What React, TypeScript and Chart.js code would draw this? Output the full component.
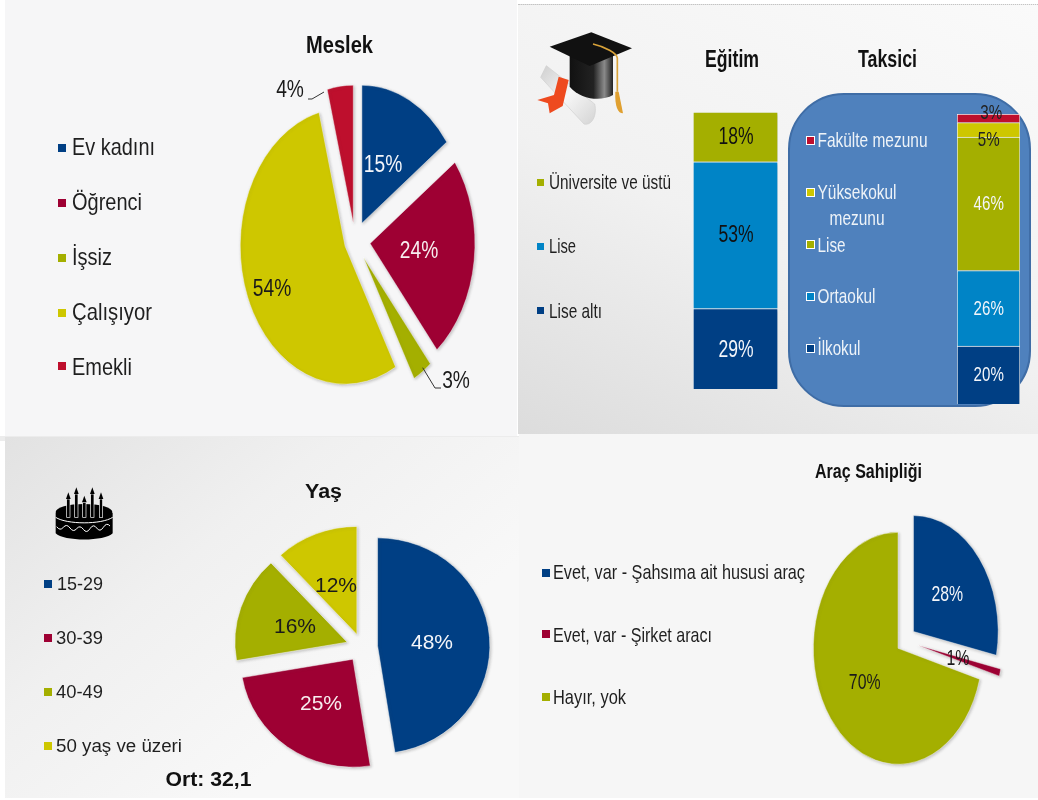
import React, { useEffect, useRef } from "react";
import { Chart, registerables } from "chart.js";

Chart.register(...registerables);

const NAVY = "#003f84";
const CRIMSON = "#9e0033";
const OLIVE = "#a4af00";
const YELLOW = "#cec700";
const RED = "#be0f2d";
const SKY = "#0084c6";
const FONT = "'Liberation Sans', Arial, sans-serif";

// ---- data ----
const meslekCategories = ["Ev kadını", "Öğrenci", "İşsiz", "Çalışıyor", "Emekli"];
const meslekValues = [15, 24, 3, 54, 4];
const egitimCategories = ["Lise altı", "Lise", "Üniversite ve üstü"];
const egitimValues = [29, 53, 18];
const taksiciCategories = ["İlkokul", "Ortaokul", "Lise", "Yüksekokul mezunu", "Fakülte mezunu"];
const taksiciValues = [20, 26, 46, 5, 3];
const yasCategories = ["15-29", "30-39", "40-49", "50 yaş ve üzeri"];
const yasValues = [48, 25, 16, 12];
const aracCategories = ["Evet, var - Şahsıma ait hususi araç", "Evet, var - Şirket aracı", "Hayır, yok"];
const aracValues = [28, 1, 70];

// ---- layout and style, kept apart from the data ----
type Pt = [number, number];
const meslekColors = [NAVY, CRIMSON, OLIVE, YELLOW, RED];
const egitimColors = [NAVY, SKY, OLIVE];
const taksiciColors = [NAVY, SKY, OLIVE, YELLOW, RED];
const yasColors = [NAVY, CRIMSON, OLIVE, YELLOW];
const aracColors = [NAVY, CRIMSON, OLIVE];

const labelPlugin = {
  id: "sliceLabels",
  // Chart.js grows an offset slice's radius and trims its arc length; cancel both
  // so that an exploded slice keeps its true radius and its true angle.
  afterDatasetsUpdate(chart: any) {
    if (chart.config.type !== "pie") return;
    chart.getDatasetMeta(0).data.forEach((arc: any) => {
      const offset = (arc.options.offset || 0) / 4;
      const fix = 1 - Math.sin(Math.min(Math.PI, arc.circumference || 0));
      const extra = offset * fix;
      const trim = extra / Math.PI / arc.outerRadius / 2;
      arc.outerRadius -= extra;
      arc.startAngle -= trim;
      arc.endAngle += trim;
    });
  },
  beforeDatasetsDraw(chart: any, _a: any, o: any) {
    const { ctx, chartArea } = chart;
    ctx.save();
    if (o.stretch) {
      const cx = (chartArea.left + chartArea.right) / 2;
      ctx.translate(cx, 0);
      ctx.scale(o.stretch, 1);
      ctx.translate(-cx, 0);
    }
    ctx.shadowColor = "rgba(90,90,90,0.35)";
    ctx.shadowBlur = 3;
    ctx.shadowOffsetX = 1;
    ctx.shadowOffsetY = 1;
  },
  afterDatasetsDraw(chart: any) {
    chart.ctx.restore();
  },
  afterDraw(chart: any, _a: any, o: any) {
    const { ctx } = chart;
    const [ox, oy] = o.origin;
    ctx.save();
    ctx.strokeStyle = "#333";
    ctx.lineWidth = 1;
    for (const line of o.leaders || []) {
      ctx.beginPath();
      line.forEach(([x, y]: Pt, i: number) => (i ? ctx.lineTo(x - ox, y - oy) : ctx.moveTo(x - ox, y - oy)));
      ctx.stroke();
    }
    ctx.font = `${o.size}px ${FONT}`;
    ctx.textAlign = "center";
    ctx.textBaseline = "middle";
    o.values.forEach((v: number, i: number) => {
      const [x, y] = o.positions[i];
      ctx.save();
      ctx.translate(x - ox, y - oy);
      ctx.scale(o.squeeze, 1);
      ctx.fillStyle = o.colors[i];
      ctx.fillText(`${v}%`, 0, 0);
      ctx.restore();
    });
    ctx.restore();
  },
};

type PieProps = {
  labels: string[];
  values: number[];
  colors: string[];
  cx: number;
  cy: number;
  half: number;
  radius: number;
  stretch: number;
  offsets: number[];
  labelPos: Pt[];
  labelColors: string[];
  size: number;
  squeeze: number;
  leaders?: Pt[][];
};

function Pie(p: PieProps) {
  const ref = useRef<HTMLCanvasElement>(null);
  const left = p.cx - p.half;
  const top = p.cy - p.half;
  useEffect(() => {
    const chart = new Chart(ref.current!, {
      type: "pie",
      data: {
        labels: p.labels,
        datasets: [
          {
            data: p.values,
            backgroundColor: p.colors,
            borderColor: "rgba(255,255,255,0.6)",
            borderWidth: 0.8,
            offset: p.offsets,
          } as any,
        ],
      },
      options: {
        animation: false,
        responsive: false,
        radius: p.radius,
        layout: { padding: 0 },
        plugins: {
          legend: { display: false },
          tooltip: { enabled: false },
          sliceLabels: {
            origin: [left, top],
            values: p.values,
            positions: p.labelPos,
            colors: p.labelColors,
            size: p.size,
            squeeze: p.squeeze,
            stretch: p.stretch,
            leaders: p.leaders,
          },
        },
      } as any,
      plugins: [labelPlugin as any],
    });
    return () => chart.destroy();
  }, []);
  return (
    <canvas
      ref={ref}
      width={p.half * 2}
      height={p.half * 2}
      style={{ position: "absolute", left, top, width: p.half * 2, height: p.half * 2 }}
    />
  );
}

type BarProps = {
  name: string;
  labels: string[];
  values: number[];
  colors: string[];
  x: number;
  y: number;
  w: number;
  h: number;
  labelPos: Pt[];
  labelColors: string[];
  size: number;
  squeeze: number;
};

function StackBar(p: BarProps) {
  const ref = useRef<HTMLCanvasElement>(null);
  const pad = 14;
  const left = p.x - pad;
  const top = p.y - pad;
  useEffect(() => {
    const chart = new Chart(ref.current!, {
      type: "bar",
      data: {
        labels: [p.name],
        datasets: p.labels.map((l, i) => ({
          label: l,
          data: [p.values[i]],
          backgroundColor: p.colors[i],
          borderColor: "#f2f6f8",
          borderWidth: 1,
          barPercentage: 1,
          categoryPercentage: 1,
        })),
      },
      options: {
        animation: false,
        responsive: false,
        layout: { padding: pad },
        scales: {
          x: { display: false, stacked: true },
          y: { display: false, stacked: true, min: 0, max: 100 },
        },
        plugins: {
          legend: { display: false },
          tooltip: { enabled: false },
          sliceLabels: {
            origin: [left, top],
            values: p.values,
            positions: p.labelPos,
            colors: p.labelColors,
            size: p.size,
            squeeze: p.squeeze,
          },
        },
      } as any,
      plugins: [labelPlugin as any],
    });
    return () => chart.destroy();
  }, []);
  const W = p.w + pad * 2;
  const H = p.h + pad * 2;
  return <canvas ref={ref} width={W} height={H} style={{ position: "absolute", left, top, width: W, height: H }} />;
}

type T = { s: string; x: number; y: number; w: number; size: number; bold?: boolean; fill?: string };

const texts: T[] = [
  { s: "Meslek", x: 306, y: 53, w: 67, size: 23, bold: true, fill: "#111" },
  { s: meslekCategories[0], x: 72, y: 155, w: 83, size: 24 },
  { s: meslekCategories[1], x: 72, y: 210, w: 70, size: 24 },
  { s: meslekCategories[2], x: 72, y: 265, w: 40, size: 24 },
  { s: meslekCategories[3], x: 72, y: 320, w: 80, size: 24 },
  { s: meslekCategories[4], x: 72, y: 375, w: 60, size: 24 },

  { s: "Eğitim", x: 705, y: 66.5, w: 54, size: 23, bold: true, fill: "#111" },
  { s: "Taksici", x: 858, y: 66.5, w: 59, size: 23, bold: true, fill: "#111" },
  { s: egitimCategories[2], x: 549, y: 189, w: 122, size: 21 },
  { s: egitimCategories[1], x: 549, y: 253, w: 27, size: 21 },
  { s: egitimCategories[0], x: 549, y: 318, w: 53, size: 21 },
  { s: taksiciCategories[4], x: 817.5, y: 147, w: 110, size: 21, fill: "#eef3f8" },
  { s: "Yüksekokul", x: 817.5, y: 199, w: 79, size: 21, fill: "#eef3f8" },
  { s: "mezunu", x: 829.5, y: 225, w: 55, size: 21, fill: "#eef3f8" },
  { s: taksiciCategories[2], x: 817.5, y: 252, w: 28, size: 21, fill: "#eef3f8" },
  { s: taksiciCategories[1], x: 817.5, y: 303, w: 58, size: 21, fill: "#eef3f8" },
  { s: taksiciCategories[0], x: 817.5, y: 355, w: 43, size: 21, fill: "#eef3f8" },

  { s: "Yaş", x: 305, y: 498, w: 37, size: 20, bold: true, fill: "#111" },
  { s: yasCategories[0], x: 57, y: 590, w: 46, size: 17.5 },
  { s: yasCategories[1], x: 56, y: 644, w: 47, size: 17.5 },
  { s: yasCategories[2], x: 56, y: 698, w: 47, size: 17.5 },
  { s: yasCategories[3], x: 56, y: 752, w: 126, size: 17.5 },
  { s: "Ort: 32,1", x: 165.5, y: 786, w: 86, size: 20, bold: true, fill: "#111" },

  { s: "Araç Sahipliği", x: 815, y: 478, w: 107, size: 21, bold: true, fill: "#111" },
  { s: aracCategories[0], x: 553, y: 579, w: 252, size: 21 },
  { s: aracCategories[1], x: 553, y: 642, w: 159, size: 21 },
  { s: aracCategories[2], x: 553, y: 704, w: 73, size: 21 },
];

type Sw = { x: number; y: number; s: number; c: string; edge?: boolean };
const swatches: Sw[] = [
  ...[147.7, 202.7, 257.7, 312.7, 366].map((y, i) => ({ x: 58, y, s: 8, c: meslekColors[i] })),
  ...[310, 246, 182].map((y, i) => ({ x: 537, y, s: 7, c: egitimColors[i] })),
  ...[348.7, 296.3, 244.3, 192.3, 140.7].map((y, i) => ({ x: 805.5, y, s: 9, c: taksiciColors[i], edge: true })),
  ...[584, 638, 692, 746].map((y, i) => ({ x: 43.5, y, s: 8, c: yasColors[i] })),
  ...[572.7, 634.3, 696.7].map((y, i) => ({ x: 541.5, y, s: 8, c: aracColors[i] })),
];

function CapIcon() {
  return (
    <svg
      viewBox="0 0 1560 1320"
      width={520}
      height={440}
      style={{ position: "absolute", left: 518, top: 0 }}
    >
      <defs>
        <linearGradient id="capBody" x1="0" x2="1" y1="0" y2="0">
          <stop offset="0" stopColor="#111" />
          <stop offset="0.55" stopColor="#222" />
          <stop offset="0.8" stopColor="#8a8a8a" />
          <stop offset="1" stopColor="#222" />
        </linearGradient>
        <linearGradient id="scroll" x1="0" x2="1" y1="0" y2="1">
          <stop offset="0" stopColor="#cfcfcf" />
          <stop offset="0.5" stopColor="#f7f7f7" />
          <stop offset="1" stopColor="#d4d4d4" />
        </linearGradient>
      </defs>
      <path d="M68 232 L85 197 L230 312 C238 345 222 378 198 372 Z" fill="url(#scroll)" stroke="#cfcfcf" strokeWidth="2" />
      <path d="M122 230 L152 240 L134 318 L95 340 L90 310 L58 300 L108 285 Z" fill="#ee4a1f" />
      <path d="M155 160 L155 260 C190 300 250 305 285 285 L285 160 Z" fill="url(#capBody)" />
      <path d="M95 140 L220 97 L342 145 L215 198 Z" fill="#111" />
      <path d="M225 132 C260 140 298 160 298 175 L298 275" fill="none" stroke="#d9a33a" strokeWidth="5" />
      <path d="M292 275 L302 275 L315 340 C300 340 290 320 292 275 Z" fill="#e0a030" />
    </svg>
  );
}

function CakeIcon() {
  const candles = [205, 229, 253, 277, 303];
  const tops = [195, 180, 205, 180, 195];
  return (
    <svg
      viewBox="0 0 1560 1110"
      width={520}
      height={370}
      style={{ position: "absolute", left: 0, top: 430 }}
    >
      <path d="M167 248 L167 310 C190 335 315 335 338 310 L338 248 Z" fill="#000" />
      <ellipse cx="252" cy="246" rx="85" ry="24" fill="#000" />
      <path d="M167 262 C200 284 305 284 338 262" fill="none" stroke="#fff" strokeWidth="3" />
      <path
        d="M170 290 q10 14 20 2 t20 2 t20 2 t20 2 t20 -2 t20 -2 t20 -2 t20 -4"
        fill="none"
        stroke="#fff"
        strokeWidth="3"
      />
      {candles.map((x, i) => (
        <g key={x}>
          <rect x={x - 5} y={tops[i] + 12} width={10} height={250 - tops[i]} fill="#000" stroke="#fff" strokeWidth="2" />
          <path d={`M${x - 7} ${tops[i] + 12} L${x} ${tops[i] - 8} L${x + 7} ${tops[i] + 12} Z`} fill="#000" />
        </g>
      ))}
    </svg>
  );
}

export default function App() {
  return (
    <div
      style={{
        position: "absolute",
        left: 0,
        top: 0,
        width: 1038,
        height: 800,
        overflow: "hidden",
        background: "#fff",
      }}
    >
      <div style={{ position: "absolute", left: 0, top: 436, width: 1038, height: 5, background: "#ececec" }} />
      <div style={{ position: "absolute", left: 5, top: 0, width: 512, height: 436, background: "#f6f6f7" }} />
      <div
        style={{
          position: "absolute",
          left: 518,
          top: 4,
          width: 520,
          height: 429,
          background: "linear-gradient(205deg,#fafafa 0%,#f1f1f1 55%,#dcdcdc 100%)",
          borderTop: "1px dotted #c4c4c4",
        }}
      />
      <div
        style={{
          position: "absolute",
          left: 5,
          top: 437,
          width: 514,
          height: 361,
          background: "linear-gradient(140deg,#e2e2e2 0%,#f0f0f0 35%,#f8f8f8 70%,#f8f8f8 100%)",
        }}
      />
      <div
        style={{
          position: "absolute",
          left: 519,
          top: 434,
          width: 519,
          height: 364,
          background: "#f6f6f6",
        }}
      />
      <div
        style={{
          position: "absolute",
          left: 788,
          top: 93,
          width: 239,
          height: 310,
          borderRadius: "56px",
          background: "#4f81bd",
          border: "2px solid #3f6da6",
          boxSizing: "content-box",
        }}
      />
      <CapIcon />
      <CakeIcon />

      <Pie
        labels={meslekCategories}
        values={meslekValues}
        colors={meslekColors}
        cx={355}
        cy={241}
        half={175}
        radius={138}
        stretch={0.76}
        offsets={[80, 80, 80, 56, 72]}
        labelPos={[[383, 165], [419, 251], [456, 381], [272, 289], [290, 90]]}
        labelColors={["#f4f6fa", "#f8eef0", "#1a1a1a", "#1a1a1a", "#1a1a1a"]}
        size={24}
        squeeze={0.8}
        leaders={[
          [[422.7, 367.7], [435, 388], [441, 388]],
          [[324, 92], [312, 99], [308, 99]],
        ]}
      />
      <StackBar
        name="Eğitim"
        labels={egitimCategories}
        values={egitimValues}
        colors={egitimColors}
        x={693}
        y={112}
        w={85}
        h={277}
        labelPos={[[736, 350], [736, 235], [736, 137]]}
        labelColors={["#f4f6fa", "#111", "#111"]}
        size={24}
        squeeze={0.73}
      />
      <StackBar
        name="Taksici"
        labels={taksiciCategories}
        values={taksiciValues}
        colors={taksiciColors}
        x={957}
        y={114}
        w={63}
        h={290}
        labelPos={[[988.7, 375.7], [988.7, 309], [988.7, 204], [988.7, 140], [991.3, 113]]}
        labelColors={["#f4f6fa", "#f4f6fa", "#f4f6fa", "#222", "#222"]}
        size={21}
        squeeze={0.72}
      />
      <Pie
        labels={yasCategories}
        values={yasValues}
        colors={yasColors}
        cx={362}
        cy={647}
        half={150}
        radius={108}
        stretch={1.04}
        offsets={[60, 60, 60, 54]}
        labelPos={[[432, 643], [321, 704], [295, 627], [336, 586]]}
        labelColors={["#f4f6fa", "#f8eef0", "#1a1a1a", "#1a1a1a"]}
        size={21}
        squeeze={1}
      />
      <Pie
        labels={aracCategories}
        values={aracValues}
        colors={aracColors}
        cx={905}
        cy={641}
        half={150}
        radius={116}
        stretch={0.73}
        offsets={[60, 72, 48]}
        labelPos={[[947.3, 595], [958, 659.3], [864.7, 682.7]]}
        labelColors={["#f4f6fa", "#1a1a1a", "#1a1a1a"]}
        size={22}
        squeeze={0.72}
      />

      {swatches.map((k, i) => (
        <div
          key={i}
          style={{
            position: "absolute",
            left: k.x,
            top: k.y - k.s / 2,
            width: k.s,
            height: k.s,
            background: k.c,
            boxSizing: "border-box",
            border: k.edge ? "1px solid #fff" : "none",
          }}
        />
      ))}
      <svg
        width={1038}
        height={800}
        style={{ position: "absolute", left: 0, top: 0, pointerEvents: "none" }}
      >
        {texts.map((t, i) => (
          <text
            key={i}
            x={t.x}
            y={t.y}
            textLength={t.w}
            lengthAdjust="spacingAndGlyphs"
            fontFamily={FONT}
            fontSize={t.size}
            fontWeight={t.bold ? 700 : 400}
            fill={t.fill || "#1f1f1f"}
          >
            {t.s}
          </text>
        ))}
      </svg>
    </div>
  );
}
